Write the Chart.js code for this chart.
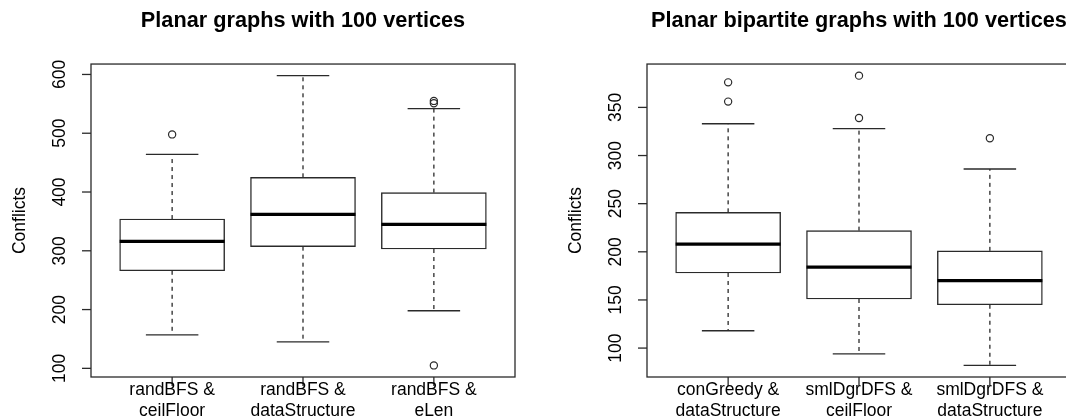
<!DOCTYPE html>
<html><head><meta charset="utf-8">
<script src="https://cdn.jsdelivr.net/npm/chart.js@4"></script>
<style>
html,body{margin:0;padding:0;background:#fff;overflow:hidden;}
#wrap{position:relative;width:1066px;height:418px;overflow:hidden;background:#fff;}
.c{position:absolute;top:0;}
</style></head><body>
<div id="wrap">
<canvas id="c1" class="c" style="left:0px" width="533" height="418"></canvas>
<canvas id="c2" class="c" style="left:533px" width="560" height="418"></canvas>
</div>
<script>
// ---------- data ----------
const leftTitle = 'Planar graphs with 100 vertices';
const leftCategories = [['randBFS &', 'ceilFloor'], ['randBFS &', 'dataStructure'], ['randBFS &', 'eLen']];
const leftLowerWhisker = [157, 145, 198];
const leftQ1 = [266, 307, 303];
const leftMedian = [316, 362, 345];
const leftQ3 = [354, 425, 399];
const leftUpperWhisker = [464, 598, 542];
const leftOutliers = [[498], [], [105, 551, 555]];
const leftYTicks = [100, 200, 300, 400, 500, 600];

const rightTitle = 'Planar bipartite graphs with 100 vertices';
const rightCategories = [['conGreedy &', 'dataStructure'], ['smlDgrDFS &', 'ceilFloor'], ['smlDgrDFS &', 'dataStructure']];
const rightLowerWhisker = [118, 94, 82];
const rightQ1 = [178, 151, 145];
const rightMedian = [208, 184, 170];
const rightQ3 = [241, 222, 201];
const rightUpperWhisker = [333, 328, 286];
const rightOutliers = [[356, 376], [339, 383], [318]];
const rightYTicks = [100, 150, 200, 250, 300, 350];

const yAxisTitle = 'Conflicts';

// ---------- styling ----------
const FONT = '"Liberation Sans", Arial, Helvetica, sans-serif';
const LINE = '#2a2a2a';
const BOX_W = 105;

function rBoxPlugin(p) {
  function seg(ctx, x1, y1, x2, y2) { ctx.beginPath(); ctx.moveTo(x1, y1); ctx.lineTo(x2, y2); ctx.stroke(); }
  return {
    id: 'rbox',
    beforeDatasetsDraw(chart) {
      const ctx = chart.ctx, xs = chart.scales.x, ys = chart.scales.y;
      ctx.save();
      ctx.strokeStyle = LINE; ctx.lineWidth = 1.3;
      p.median.forEach((m, i) => {
        const x = xs.getPixelForValue(i + 1);
        const yU = ys.getPixelForValue(p.upper[i]), yQ3 = ys.getPixelForValue(p.q3[i]);
        const yL = ys.getPixelForValue(p.lower[i]), yQ1 = ys.getPixelForValue(p.q1[i]);
        ctx.setLineDash([4, 4]);
        seg(ctx, x, yQ3, x, yU);
        seg(ctx, x, yQ1, x, yL);
        ctx.setLineDash([]);
        const h = BOX_W / 4;
        seg(ctx, x - h, yU, x + h, yU);
        seg(ctx, x - h, yL, x + h, yL);
      });
      ctx.restore();
    },
    afterDatasetsDraw(chart) {
      const ctx = chart.ctx, xs = chart.scales.x, ys = chart.scales.y;
      ctx.save();
      ctx.strokeStyle = '#000'; ctx.lineWidth = 3.2; ctx.lineCap = 'butt';
      p.median.forEach((m, i) => {
        const x = xs.getPixelForValue(i + 1), y = ys.getPixelForValue(m);
        seg(ctx, x - BOX_W / 2, y, x + BOX_W / 2, y);
      });
      ctx.restore();
    },
    afterDraw(chart) {
      const ctx = chart.ctx, xs = chart.scales.x, ys = chart.scales.y, a = chart.chartArea;
      ctx.save();
      ctx.strokeStyle = LINE; ctx.lineWidth = 1.3;
      ctx.strokeRect(a.left, a.top, a.right - a.left, a.bottom - a.top);
      const TL = 9;
      ctx.fillStyle = '#000';
      ctx.font = '17.5px ' + FONT;
      p.yTicks.forEach(v => {
        const y = ys.getPixelForValue(v);
        seg(ctx, a.left - TL, y, a.left, y);
        ctx.save();
        ctx.translate(a.left - 26.5, y);
        ctx.rotate(-Math.PI / 2);
        ctx.textAlign = 'center'; ctx.textBaseline = 'alphabetic';
        ctx.fillText(String(v), 0, 0);
        ctx.restore();
      });
      p.categories.forEach((lines, i) => {
        const x = xs.getPixelForValue(i + 1);
        seg(ctx, x, a.bottom, x, a.bottom + TL);
        ctx.textAlign = 'center'; ctx.textBaseline = 'alphabetic';
        lines.forEach((t, k) => ctx.fillText(t, x, a.bottom + 18 + k * 21));
      });
      ctx.save();
      ctx.translate(a.left - 66.5, (a.top + a.bottom) / 2);
      ctx.rotate(-Math.PI / 2);
      ctx.textAlign = 'center'; ctx.textBaseline = 'alphabetic';
      ctx.fillText(p.yTitle, 0, 0);
      ctx.restore();
      ctx.restore();
    }
  };
}

function rRange(lo, hi) { const d = hi - lo; return [lo - 0.04 * d, hi + 0.04 * d]; }

function makeChart(canvasId, p, pad) {
  const all = p.lower.concat(p.upper, p.outliers.flat());
  const [ymin, ymax] = rRange(Math.min(...all), Math.max(...all));
  const boxData = p.q1.map((q, i) => ({ x: i + 1, y: [q, p.q3[i]] }));
  const outData = [];
  p.outliers.forEach((arr, i) => arr.forEach(v => outData.push({ x: i + 1, y: v })));
  return new Chart(document.getElementById(canvasId), {
    type: 'bar',
    data: {
      datasets: [
        {
          type: 'bar', data: boxData, barThickness: BOX_W,
          backgroundColor: '#fff', borderColor: LINE, borderWidth: 1.4, borderSkipped: false
        },
        {
          type: 'line', data: outData, showLine: false,
          pointStyle: 'circle', pointRadius: 3.6, pointBorderWidth: 1.2,
          pointBorderColor: LINE, pointBackgroundColor: 'rgba(255,255,255,0)'
        }
      ]
    },
    options: {
      responsive: false, animation: false, events: [],
      layout: { padding: pad },
      scales: {
        x: { type: 'linear', min: 0.38, max: 3.62, offset: false, display: false },
        y: { type: 'linear', min: ymin, max: ymax, display: false }
      },
      plugins: {
        legend: { display: false }, tooltip: { enabled: false },
        title: {
          display: true, text: p.title, color: '#000',
          font: { family: FONT, size: 21.7, weight: 'bold', lineHeight: 1.2 },
          padding: { top: 8, bottom: 30 }
        }
      }
    },
    plugins: [rBoxPlugin(p)]
  });
}

makeChart('c1', {
  title: leftTitle, categories: leftCategories, lower: leftLowerWhisker, q1: leftQ1,
  median: leftMedian, q3: leftQ3, upper: leftUpperWhisker, outliers: leftOutliers,
  yTicks: leftYTicks, yTitle: yAxisTitle
}, { left: 91, right: 18, top: 0, bottom: 41 });

makeChart('c2', {
  title: rightTitle, categories: rightCategories, lower: rightLowerWhisker, q1: rightQ1,
  median: rightMedian, q3: rightQ3, upper: rightUpperWhisker, outliers: rightOutliers,
  yTicks: rightYTicks, yTitle: yAxisTitle
}, { left: 114, right: 22, top: 0, bottom: 41 });
</script>
</body></html>
